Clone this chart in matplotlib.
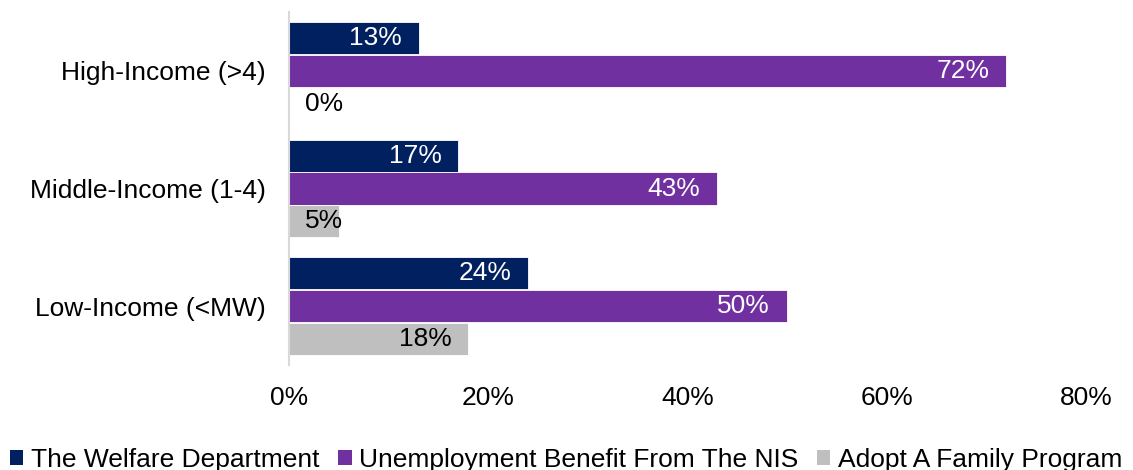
"""Horizontal grouped bars: support source by income group."""

import matplotlib.pyplot as plt
import numpy as np
from matplotlib.patches import Patch

plt.rcParams["font.family"] = ["Liberation Sans", "DejaVu Sans"]
plt.rcParams["font.size"] = 19

# bottom to top
categories = ["Low-Income (<MW)", "Middle-Income (1-4)", "High-Income (>4)"]
series_names = ["The Welfare Department",
                "Unemployment Benefit From The NIS",
                "Adopt A Family Program"]
welfare = [24, 17, 13]
unemployment = [50, 43, 72]
adopt = [18, 5, 0]
xticks = [0, 20, 40, 60, 80]

colors = ["#002060", "#7030A0", "#BFBFBF"]
label_colors = ["white", "white", "black"]

fig = plt.figure(figsize=(11.33, 4.70), dpi=100)
ax = fig.add_axes([289 / 1133, 105 / 470, (1086 - 289) / 1133, 353 / 470])

y = np.arange(len(categories))
offsets = [0.28, 0.0, -0.28]
bar_h = 0.272

for vals, off, col, lcol in zip([welfare, unemployment, adopt], offsets,
                                colors, label_colors):
    ax.barh(y + off, vals, height=bar_h, color=col, edgecolor="white",
            linewidth=0.6)
    for yi, v in zip(y + off, vals):
        if v < 8:
            ax.text(1.6, yi, f"{v}%", ha="left", va="center", color="black")
        else:
            ax.text(v - 1.7, yi, f"{v}%", ha="right", va="center", color=lcol)

ax.set_xlim(0, 80)
ax.set_ylim(-0.5, 2.5)
ax.set_xticks(xticks)
ax.set_xticklabels([f"{t}%" for t in xticks])
ax.set_yticks(y)
ax.set_yticklabels(categories)
ax.tick_params(axis="x", length=0, pad=15)
ax.tick_params(axis="y", length=0, pad=17)

for side in ["top", "right", "bottom"]:
    ax.spines[side].set_visible(False)
ax.spines["left"].set_color("#D9D9D9")
ax.spines["left"].set_linewidth(1.5)

handles = [Patch(facecolor=c, edgecolor="none") for c in colors]
fig.legend(handles, series_names, loc="center", ncol=3,
           bbox_to_anchor=(0.5, 1 - 460 / 470), frameon=False,
           handlelength=0.5, handleheight=0.5, handletextpad=0.3,
           columnspacing=0.7, borderpad=0)

fig.savefig("out.png", dpi=100)
